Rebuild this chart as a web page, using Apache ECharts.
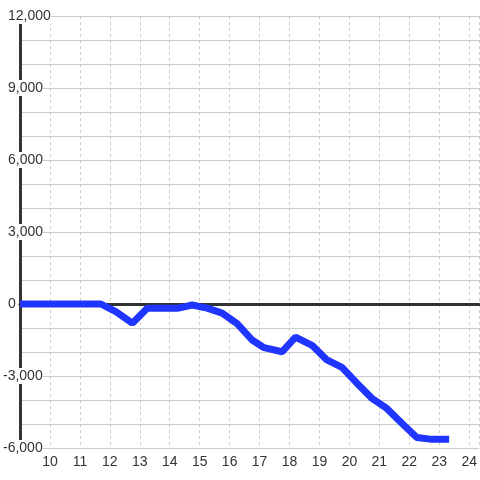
<!DOCTYPE html>
<html>
<head>
<meta charset="utf-8">
<script src="https://cdn.jsdelivr.net/npm/echarts@6/dist/echarts.min.js"></script>
<style>
  html, body { margin: 0; padding: 0; background: #fff; }
  #chart { width: 480px; height: 480px; }
</style>
</head>
<body>
<div id="chart"></div>
<script>
// hour of day vs cumulative value
var hours = [9, 11.7, 12.2, 12.75, 13.25, 13.75, 14.25, 14.75, 15.25, 15.75,
  16.25, 16.75, 17.15, 17.75, 18.2, 18.75, 19.25, 19.75, 20.25, 20.75,
  21.25, 21.75, 22.25, 22.75, 23.33];
var values = [0, 0, -320, -800, -180, -180, -180, -40, -170, -380,
  -820, -1500, -1820, -1990, -1380, -1720, -2330, -2640, -3300, -3930,
  -4350, -4970, -5560, -5640, -5640];
var yTicks = [-6000, -3000, 0, 3000, 6000, 9000, 12000];

var points = hours.map(function (h, i) { return [h, values[i]]; });

var font = 'Liberation Sans';

var myChart = echarts.init(document.getElementById('chart'));
myChart.setOption({
  animation: false,
  textStyle: { fontFamily: font },
  grid: { left: 20, right: 0, top: 16, bottom: 32 },
  xAxis: [
    {
      type: 'value',
      min: 9,
      max: 24.333,
      interval: 1,
      axisLine: { show: false, onZero: false },
      axisTick: { show: false },
      axisLabel: {
        color: '#333',
        fontFamily: font,
        fontSize: 14,
        margin: 7,
        showMaxLabel: false,
        formatter: function (v) { return (Number.isInteger(v) && v > 9) ? String(v) : ''; }
      },
      splitLine: { show: true, lineStyle: { color: '#ccc', type: [3, 3], width: 1 } }
    },
    {
      type: 'value',
      min: 9,
      max: 24.333,
      position: 'bottom',
      axisLine: { show: true, onZero: true, lineStyle: { color: '#333', width: 3 } },
      axisTick: { show: false },
      axisLabel: { show: false },
      splitLine: { show: false },
      z: 4
    }
  ],
  yAxis: {
    type: 'value',
    min: yTicks[0],
    max: yTicks[yTicks.length - 1],
    interval: 3000,
    axisLine: { show: true, onZero: false, lineStyle: { color: '#333', width: 3 } },
    axisTick: { show: false },
    minorTick: { show: false, splitNumber: 3 },
    minorSplitLine: { show: true, lineStyle: { color: '#ccc', width: 1 } },
    splitLine: { show: true, lineStyle: { color: '#ccc', width: 1 } },
    axisLabel: {
      color: '#333',
      fontFamily: font,
      fontSize: 14,
      align: 'left',
      margin: 17,
      backgroundColor: '#fff',
      padding: [1, 0, 1, 0],
      formatter: function (v) {
        var s = v.toLocaleString('en-US');
        return v < 0 ? '{n|' + s + '}' : '{p|' + s + '}';
      },
      rich: {
        n: { color: '#333', fontFamily: font, fontSize: 14 },
        p: { color: '#333', fontFamily: font, fontSize: 14, padding: [0, 0, 0, 5] }
      }
    },
    z: 3
  },
  series: [
    {
      type: 'line',
      xAxisIndex: 0,
      data: points,
      showSymbol: false,
      lineStyle: { color: '#2035ff', width: 7 },
      z: 5
    }
  ]
});
</script>
</body>
</html>
